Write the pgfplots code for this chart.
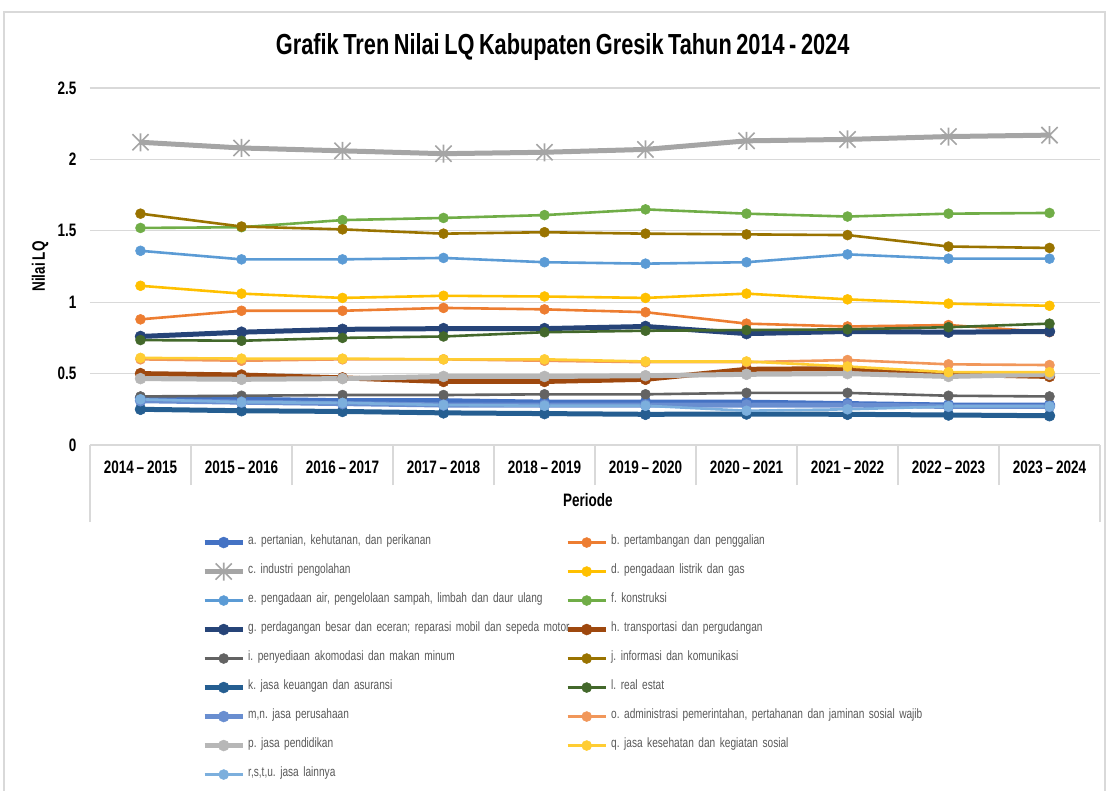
\documentclass[border=0pt]{standalone}
\usepackage{fontspec}
\setmainfont{Liberation Sans}[FakeStretch=0.75, WordSpace=0.75]
\usepackage{pgfplots}
\pgfplotsset{compat=1.18}
\definecolor{ca}{HTML}{4472C4}
\definecolor{cb}{HTML}{ED7D31}
\definecolor{cc}{HTML}{A5A5A5}
\definecolor{cd}{HTML}{FFC000}
\definecolor{ce}{HTML}{5B9BD5}
\definecolor{cf}{HTML}{70AD47}
\definecolor{cg}{HTML}{264478}
\definecolor{ch}{HTML}{9E480E}
\definecolor{ci}{HTML}{636363}
\definecolor{cj}{HTML}{997300}
\definecolor{ck}{HTML}{255E91}
\definecolor{cl}{HTML}{43682B}
\definecolor{cm}{HTML}{698ED0}
\definecolor{co}{HTML}{F1975A}
\definecolor{cp}{HTML}{B7B7B7}
\definecolor{cq}{HTML}{FFCD33}
\definecolor{cr}{HTML}{7CAFDD}
\definecolor{gridc}{HTML}{D9D9D9}
\definecolor{legc}{HTML}{595959}
\pgfdeclareplotmark{xstar}{%
  \pgfpathmoveto{\pgfqpoint{0pt}{\pgfplotmarksize}}%
  \pgfpathlineto{\pgfqpoint{0pt}{-\pgfplotmarksize}}%
  \pgfpathmoveto{\pgfqpoint{-0.9\pgfplotmarksize}{0.9\pgfplotmarksize}}%
  \pgfpathlineto{\pgfqpoint{0.9\pgfplotmarksize}{-0.9\pgfplotmarksize}}%
  \pgfpathmoveto{\pgfqpoint{-0.9\pgfplotmarksize}{-0.9\pgfplotmarksize}}%
  \pgfpathlineto{\pgfqpoint{0.9\pgfplotmarksize}{0.9\pgfplotmarksize}}%
  \pgfusepathqstroke}
\pgfplotsset{
  sser/.style={color=#1, line width=2.6pt, line join=round, mark=*, mark size=5pt,
    mark options={solid, fill=#1, draw=#1, line width=0.5pt}},
  tser/.style={color=#1, line width=5pt, line join=round, mark=*, mark size=5.5pt,
    mark options={solid, fill=#1, draw=#1, line width=0.5pt}},
}
\frenchspacing
\begin{document}
\frenchspacing
\begin{tikzpicture}
\useasboundingbox (-90pt,-345pt) rectangle (1018pt,445pt);
\draw[gridc, line width=1.2pt] (-86pt,-420pt) rectangle (1015pt,433pt);
\begin{axis}[
  at={(0pt,0pt)}, anchor=south west,
  scale only axis, width=1010pt, height=357pt,
  xmin=0.5, xmax=10.5, ymin=0, ymax=2.5,
  xtick={1,...,10},
  xticklabels={2014 – 2015,2015 – 2016,2016 – 2017,2017 – 2018,2018 – 2019,2019 – 2020,2020 – 2021,2021 – 2022,2022 – 2023,2023 – 2024},
  minor xtick={0.5,1.5,...,10.5},
  extra x ticks={0.5,10.5}, extra x tick labels={},
  extra x tick style={major tick length=77pt, tick style={draw=gridc, line width=1.2pt}, grid=none},
  major tick length=0pt, minor tick length=40pt, tick align=outside,
  minor tick style={draw=gridc, line width=1.2pt},
  ytick={0,0.5,...,2.5},
  ymajorgrids, grid style={draw=gridc, line width=1.2pt},
  axis lines*=left,
  x axis line style={draw=gridc, line width=1.2pt, -},
  y axis line style={draw=none},
  /pgf/number format/assume math mode=true,
  yticklabel={\pgfmathprintnumber[fixed,precision=1]{\tick}},
  ticklabel style={font=\bfseries\fontsize{18}{18}\selectfont, text=black},
  xticklabel style={anchor=base, yshift=-28pt},
  yticklabel style={xshift=-10pt},
  title={Grafik Tren Nilai LQ Kabupaten Gresik Tahun 2014 - 2024},
  title style={at={(axis description cs:0.468,1.098)}, anchor=center, font=\bfseries\fontsize{29}{29}\selectfont},
  xlabel={Periode},
  xlabel style={at={(axis description cs:0.493,-0.154)}, anchor=center, font=\bfseries\fontsize{18}{18}\selectfont},
  ylabel={Nilai LQ},
  ylabel style={at={(axis description cs:-0.0495,0.5)}, anchor=center, font=\bfseries\fontsize{18}{18}\selectfont},
  legend columns=2,
  legend cell align=left,
  legend image code/.code={\draw[mark repeat=2,mark phase=2,#1] plot coordinates {(0pt,0pt) (19pt,0pt) (38pt,0pt)};},
  legend style={at={(axis description cs:0.1109,-0.246)}, anchor=north west, draw=none, fill=none,
    inner sep=0pt, row sep=10pt,
    nodes={font=\frenchspacing\fontsize{13.5}{13.5}\selectfont, text=legc, inner sep=0pt, text width=313pt, text height=11pt, text depth=8pt, align=left},
    /tikz/every odd column/.append style={column sep=3pt},
    /tikz/every even column/.append style={column sep=4pt}},
  clip=false,
]
\addplot[tser=ca] coordinates {(1,0.33)(2,0.32)(3,0.31)(4,0.31)(5,0.30)(6,0.30)(7,0.30)(8,0.29)(9,0.28)(10,0.28)};
\addlegendentry{a. pertanian, kehutanan, dan perikanan}
\addplot[sser=cb] coordinates {(1,0.88)(2,0.94)(3,0.94)(4,0.96)(5,0.95)(6,0.93)(7,0.85)(8,0.83)(9,0.84)(10,0.79)};
\addlegendentry{b. pertambangan dan penggalian}
\addplot[color=cc, line width=5pt, line join=round, mark=xstar, mark size=9pt, mark options={solid, draw=cc, line width=1.6pt}] coordinates {(1,2.12)(2,2.08)(3,2.06)(4,2.04)(5,2.05)(6,2.07)(7,2.13)(8,2.14)(9,2.16)(10,2.17)};
\addlegendentry{c. industri pengolahan}
\addplot[sser=cd] coordinates {(1,1.115)(2,1.06)(3,1.03)(4,1.045)(5,1.04)(6,1.03)(7,1.06)(8,1.02)(9,0.99)(10,0.975)};
\addlegendentry{d. pengadaan listrik dan gas}
\addplot[sser=ce] coordinates {(1,1.36)(2,1.30)(3,1.30)(4,1.31)(5,1.28)(6,1.27)(7,1.28)(8,1.335)(9,1.305)(10,1.305)};
\addlegendentry{e. pengadaan air, pengelolaan sampah, limbah dan daur ulang}
\addplot[sser=cf] coordinates {(1,1.52)(2,1.525)(3,1.575)(4,1.59)(5,1.61)(6,1.65)(7,1.62)(8,1.60)(9,1.62)(10,1.625)};
\addlegendentry{f. konstruksi}
\addplot[tser=cg] coordinates {(1,0.76)(2,0.79)(3,0.81)(4,0.815)(5,0.815)(6,0.83)(7,0.78)(8,0.795)(9,0.79)(10,0.795)};
\addlegendentry{\mbox{g. perdagangan besar dan eceran; reparasi mobil dan sepeda motor}}
\addplot[tser=ch] coordinates {(1,0.50)(2,0.49)(3,0.47)(4,0.445)(5,0.445)(6,0.46)(7,0.53)(8,0.535)(9,0.495)(10,0.48)};
\addlegendentry{h. transportasi dan pergudangan}
\addplot[sser=ci] coordinates {(1,0.34)(2,0.345)(3,0.35)(4,0.35)(5,0.355)(6,0.355)(7,0.365)(8,0.365)(9,0.345)(10,0.34)};
\addlegendentry{i. penyediaan akomodasi dan makan minum}
\addplot[sser=cj] coordinates {(1,1.62)(2,1.53)(3,1.51)(4,1.48)(5,1.49)(6,1.48)(7,1.475)(8,1.47)(9,1.39)(10,1.38)};
\addlegendentry{j. informasi dan komunikasi}
\addplot[tser=ck] coordinates {(1,0.25)(2,0.24)(3,0.235)(4,0.225)(5,0.22)(6,0.215)(7,0.217)(8,0.215)(9,0.21)(10,0.205)};
\addlegendentry{k. jasa keuangan dan asuransi}
\addplot[sser=cl] coordinates {(1,0.735)(2,0.73)(3,0.75)(4,0.76)(5,0.79)(6,0.80)(7,0.805)(8,0.81)(9,0.825)(10,0.85)};
\addlegendentry{l. real estat}
\addplot[tser=cm] coordinates {(1,0.31)(2,0.30)(3,0.29)(4,0.28)(5,0.28)(6,0.28)(7,0.28)(8,0.28)(9,0.27)(10,0.27)};
\addlegendentry{m,n. jasa perusahaan}
\addplot[sser=co] coordinates {(1,0.60)(2,0.59)(3,0.60)(4,0.60)(5,0.59)(6,0.58)(7,0.58)(8,0.595)(9,0.565)(10,0.56)};
\addlegendentry{\mbox{o. administrasi pemerintahan, pertahanan dan jaminan sosial wajib}}
\addplot[tser=cp] coordinates {(1,0.465)(2,0.46)(3,0.465)(4,0.48)(5,0.48)(6,0.485)(7,0.495)(8,0.50)(9,0.48)(10,0.495)};
\addlegendentry{p. jasa pendidikan}
\addplot[sser=cq] coordinates {(1,0.61)(2,0.605)(3,0.605)(4,0.60)(5,0.60)(6,0.585)(7,0.585)(8,0.55)(9,0.51)(10,0.51)};
\addlegendentry{q. jasa kesehatan dan kegiatan sosial}
\addplot[sser=cr] coordinates {(1,0.32)(2,0.30)(3,0.295)(4,0.28)(5,0.275)(6,0.275)(7,0.24)(8,0.25)(9,0.27)(10,0.27)};
\addlegendentry{r,s,t,u. jasa lainnya}
\end{axis}
\end{tikzpicture}
\end{document}
